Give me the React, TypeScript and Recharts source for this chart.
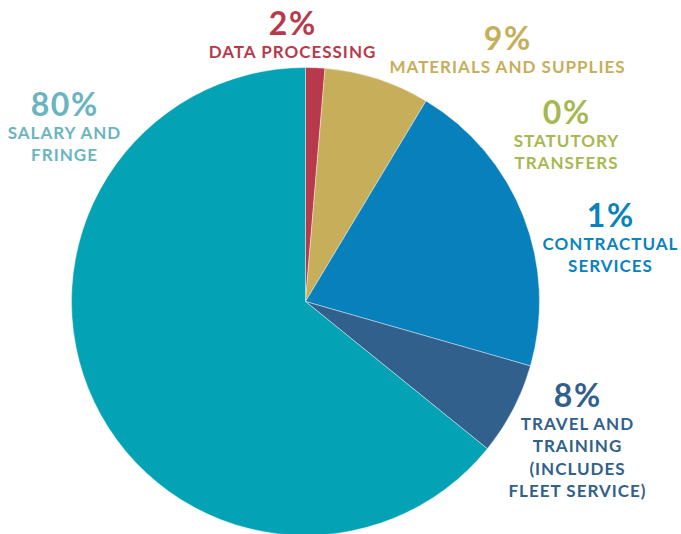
import { Cell, Customized, Pie, PieChart } from "recharts";

// slice shares as drawn (clockwise from 12 o'clock)
const categories = [
  "Data Processing",
  "Materials and Supplies",
  "Statutory Transfers",
  "Contractual Services",
  "Travel and Training",
  "Salary and Fringe",
];
const sliceValues = [1.33, 7.28, 0, 20.83, 6.39, 64.17];
const percentLabels = ["2%", "9%", "0%", "1%", "8%", "80%"];
const nameLines = [
  ["DATA PROCESSING"],
  ["MATERIALS AND SUPPLIES"],
  ["STATUTORY", "TRANSFERS"],
  ["CONTRACTUAL", "SERVICES"],
  ["TRAVEL AND", "TRAINING", "(INCLUDES", "FLEET SERVICE)"],
  ["SALARY AND", "FRINGE"],
];

const sliceColors = ["#B8394B", "#C6AE5A", "#A8B850", "#0880BB", "#31608C", "#03A3B5"];
const textColors = ["#B73A4C", "#C6AE5A", "#A8B850", "#0A82BD", "#31608C", "#6AB4BF"];

// where each label block sits: center x, baseline of the percent
const labelSpots = [
  { x: 292, y: 35 },
  { x: 507, y: 50 },
  { x: 566, y: 124 },
  { x: 610, y: 227 },
  { x: 577, y: 407 },
  { x: 64, y: 116 },
];

const data = categories.map((name, i) => ({ name, value: sliceValues[i] }));

const FONT = "Lato, 'Open Sans', sans-serif";

function Labels() {
  return (
    <g>
      {categories.map((name, i) => {
        const spot = labelSpots[i];
        return (
          <g key={name} fill={textColors[i]} fontFamily={FONT} textAnchor="middle">
            <text
              x={spot.x + 0.75}
              y={spot.y}
              fontSize={32}
              fontWeight={700}
              letterSpacing={1.5}
            >
              {percentLabels[i]}
            </text>
            {nameLines[i].map((line, j) => (
              <text
                key={line}
                x={spot.x + 0.5}
                y={spot.y + 23 + j * 22.3}
                fontSize={17}
                fontWeight={700}
                letterSpacing={1}
              >
                {line}
              </text>
            ))}
          </g>
        );
      })}
    </g>
  );
}

export default function App() {
  return (
    <div style={{ position: "fixed", left: 0, top: 0, width: 681, height: 534, background: "#fff" }}>
      <PieChart width={681} height={534} margin={{ top: 0, right: 0, bottom: 0, left: 0 }}>
        <Pie
          data={data}
          dataKey="value"
          nameKey="name"
          cx={305.5}
          cy={301.5}
          outerRadius={234}
          startAngle={90}
          endAngle={-270}
          stroke="#ffffff"
          strokeWidth={0.4}
          isAnimationActive={false}
        >
          {data.map((d, i) => (
            <Cell key={d.name} fill={sliceColors[i]} />
          ))}
        </Pie>
        <Customized component={Labels} />
      </PieChart>
    </div>
  );
}
